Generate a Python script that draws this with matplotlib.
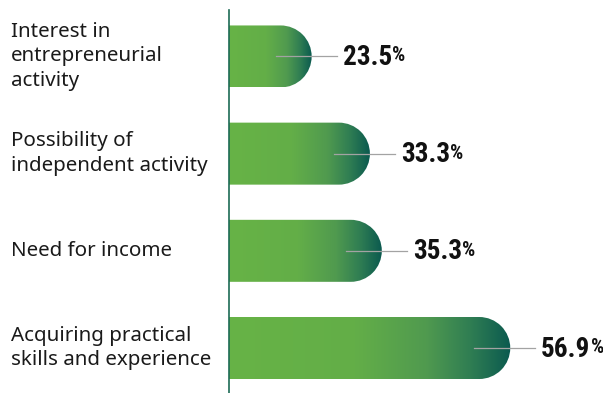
import matplotlib
matplotlib.use("Agg")
import matplotlib.pyplot as plt
import numpy as np
from matplotlib import font_manager
from matplotlib.colors import LinearSegmentedColormap
from matplotlib.path import Path
from matplotlib.patches import PathPatch
from matplotlib.transforms import Affine2D, blended_transform_factory

# --- data -------------------------------------------------------------
categories = [
    "Interest in\nentrepreneurial\nactivity",
    "Possibility of\nindependent activity",
    "Need for income",
    "Acquiring practical\nskills and experience",
]
values = [23.5, 33.3, 35.3, 56.9]
value_labels = ["23.5", "33.3", "35.3", "56.9"]

# --- fonts ------------------------------------------------------------
installed = {f.name for f in font_manager.fontManager.ttflist}
num_font = next(
    (n for n in ["Liberation Sans Narrow", "Roboto Condensed", "DejaVu Sans Condensed",
                 "Liberation Sans"] if n in installed),
    "DejaVu Sans",
)
label_font = "Noto Sans" if "Noto Sans" in installed else "DejaVu Sans"

# --- figure / axes ----------------------------------------------------
W, H, DPI = 603, 393, 100
PT = 72 / DPI  # points per pixel
fig = plt.figure(figsize=(W / DPI, H / DPI), dpi=DPI)
ax_left_px, ax_top_px = 229, 10
ax = fig.add_axes([ax_left_px / W, 0, 1 - ax_left_px / W, 1 - ax_top_px / H])

x0, x1 = 9.6, 72.5
y0, y1 = -0.478, 3.463

for s in ["top", "right", "bottom"]:
    ax.spines[s].set_visible(False)
ax.spines["left"].set_color("#1c6b55")
ax.spines["left"].set_linewidth(1.2)
ax.set_xticks([])
ax.set_yticks([])

# bar geometry: right end is a half-circle in screen space
bar_h = 0.638
px_x = (W - ax_left_px) / (x1 - x0)
px_y = (H - ax_top_px) / (y1 - y0)
ry = bar_h / 2
rx = ry * px_y / px_x

cmap = LinearSegmentedColormap.from_list(
    "bar",
    [(0.0, "#67b346"), (0.45, "#63ae48"), (0.70, "#509a4f"),
     (0.86, "#2f7d53"), (1.0, "#0b5a4f")],
)
grad = np.linspace(0, 1, 256).reshape(1, -1)

for i, v in enumerate(values):
    cx = v - rx
    arc = Path.arc(-90, 90)
    arc_v = Affine2D().scale(rx, ry).translate(cx, i).transform(arc.vertices)
    verts = np.vstack([[x0, i - ry], [cx, i - ry], arc_v, [x0, i + ry], [x0, i - ry]])
    codes = ([Path.MOVETO, Path.LINETO, Path.LINETO] + list(arc.codes[1:])
             + [Path.LINETO, Path.CLOSEPOLY])
    patch = PathPatch(Path(verts, codes), facecolor="none", edgecolor="none")
    ax.add_patch(patch)
    im = ax.imshow(grad, cmap=cmap, aspect="auto", extent=(x0, v, i + ry, i - ry),
                   interpolation="bilinear", zorder=1)
    im.set_clip_path(patch)

ax.set_xlim(x0, x1)
ax.set_ylim(y1, y0)

for i, v in enumerate(values):
    # leader line from inside the cap to the label
    ex, ey = ax.transData.transform((v, i))
    ax.plot([ex - 36, ex + 25], [ey, ey], color="#a3a3a3", lw=0.9, zorder=3,
            transform=None, clip_on=False)

    # value label with a raised percent sign
    num = ax.annotate(value_labels[i], xy=(v, i), xytext=(31 * PT, -1 * PT),
                      textcoords="offset points", ha="left", va="center",
                      fontsize=19.5, fontweight="bold", family=num_font,
                      color="#111111", zorder=4, annotation_clip=False)
    ax.annotate("%", xy=(1, 1), xycoords=num, xytext=(0.2, -1.8),
                textcoords="offset points", ha="left", va="top",
                fontsize=15, fontweight="bold", family=num_font, color="#111111",
                annotation_clip=False)

# category labels
lab_tr = blended_transform_factory(fig.transFigure, ax.transData)
for i, c in enumerate(categories):
    ax.text(11 / W, i, c, transform=lab_tr, ha="left", va="center",
            fontsize=14.8, family=label_font, color="#1a1a1a", linespacing=1.3)

fig.savefig("out.png", dpi=DPI)
